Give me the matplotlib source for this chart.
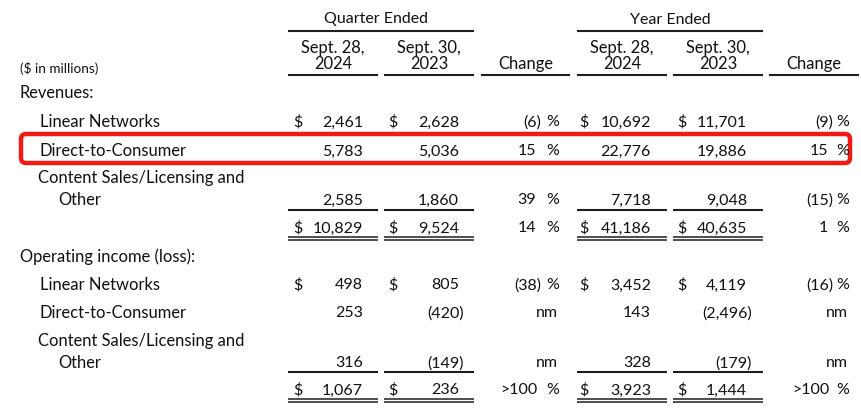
import matplotlib.pyplot as plt
from matplotlib.patches import FancyBboxPatch

plt.rcParams['font.family'] = ['Lato', 'DejaVu Sans']

rev_labels = ["Linear Networks", "Direct-to-Consumer", "Content Sales/Licensing and"]
rev_q24 = [2461, 5783, 2585]
rev_q23 = [2628, 5036, 1860]
rev_qchg = [-6, 15, 39]
rev_y24 = [10692, 22776, 7718]
rev_y23 = [11701, 19886, 9048]
rev_ychg = [-9, 15, -15]
rev_total = [10829, 9524, 14, 41186, 40635, 1]

op_labels = ["Linear Networks", "Direct-to-Consumer", "Content Sales/Licensing and"]
op_q24 = [498, 253, 316]
op_q23 = [805, -420, -149]
op_qchg = [-38, None, None]
op_y24 = [3452, 143, 328]
op_y23 = [4119, -2496, -179]
op_ychg = [-16, None, None]
op_total = [1067, 236, ">100", 3923, 1444, ">100"]

W, H = 862, 414
fig = plt.figure(figsize=(W / 100, H / 100), dpi=100)
ax = fig.add_axes([0, 0, 1, 1])
ax.set_xlim(0, W)
ax.set_ylim(H, 0)
ax.axis('off')

txt = '#111111'
fs = 11.5      # numbers / headers
fl = 11.9      # row labels
dy = 1.5       # small downward nudge for all text
# column geometry (right edge of digits, $ position, underline span)
num_right = [363, 459, 651, 747]
dollar_x = [293, 388, 579, 677]
col_span = [(288, 378), (384, 474), (577, 667), (673, 763)]
chg_right = [536, 828]
pct_x = [546, 836]
chg_span = [(481, 570), (769, 859)]


def t(x, y, s, ha='left', size=fs):
    ax.text(x, y + dy, s, ha=ha, va='center', fontsize=size, color=txt)


def hline(x0, x1, y, lw=1.5):
    ax.plot([x0, x1], [y, y], color='#1e1e1e', lw=lw, solid_capstyle='butt')


def put_num(i, y, v, dollar=False):
    x = num_right[i]
    if v < 0:
        t(x + 5, y, '(' + format(-v, ',') + ')', ha='right')
    else:
        t(x, y, format(v, ','), ha='right')
    if dollar:
        t(dollar_x[i], y, '$')


def put_chg(j, y, v):
    if v is None:
        t(pct_x[j] + 12, y, 'nm', ha='right')
        return
    if isinstance(v, str):
        s, xr = v, chg_right[j] + 2
    elif v < 0:
        s, xr = '(%d)' % -v, chg_right[j] + 5
    else:
        s, xr = '%d' % v, chg_right[j]
    t(xr, y, s, ha='right')
    t(pct_x[j], y, '%')


# headers
t(376, 18, 'Quarter Ended', ha='center')
t(670, 18, 'Year Ended', ha='center')
hline(288, 474, 32)
hline(577, 763, 32)
heads = [('Sept. 28,', '2024'), ('Sept. 30,', '2023'), ('Sept. 28,', '2024'), ('Sept. 30,', '2023')]
for (a, b), (x0, x1) in zip(heads, col_span):
    cx = (x0 + x1) / 2
    t(cx, 46, a, ha='center', size=11.9)
    t(cx, 62.5, b, ha='center', size=11.9)
    hline(x0, x1, 76)
for x0, x1 in chg_span:
    t((x0 + x1) / 2, 62.5, 'Change', ha='center', size=11.9)
    hline(x0, x1, 76)
t(20, 67, '($ in millions)', size=9.7)


def section(title, ty, labels, q24, q23, qchg, y24, y23, ychg, total, rows_y, line_y, tot_y):
    t(20, ty, title, size=fl)
    for k, lab in enumerate(labels):
        ry = rows_y[k]
        if k == 2:
            t(38, ry - 22, lab, size=fl)
            t(58, ry, 'Other', size=fl)
        else:
            t(40, ry, lab, size=fl)
        d = k == 0
        put_num(0, ry, q24[k], d)
        put_num(1, ry, q23[k], d)
        put_chg(0, ry, qchg[k])
        put_num(2, ry, y24[k], d)
        put_num(3, ry, y23[k], d)
        put_chg(1, ry, ychg[k])
    for x0, x1 in col_span:
        hline(x0, x1, line_y)
        hline(x0, x1, tot_y + 11, lw=1.1)
        hline(x0, x1, tot_y + 14, lw=1.1)
    put_num(0, tot_y, total[0], True)
    put_num(1, tot_y, total[1], True)
    put_chg(0, tot_y, total[2])
    put_num(2, tot_y, total[3], True)
    put_num(3, tot_y, total[4], True)
    put_chg(1, tot_y, total[5])


section('Revenues:', 91, rev_labels, rev_q24, rev_q23, rev_qchg, rev_y24, rev_y23, rev_ychg,
        rev_total, [121, 150, 199], 211, 227)
section('Operating income (loss):', 255, op_labels, op_q24, op_q23, op_qchg, op_y24, op_y23, op_ychg,
        op_total, [284, 312, 362], 373, 389)

# highlight box around the DTC revenue row
box = FancyBboxPatch((21, 135), 829, 29, boxstyle='round,pad=0,rounding_size=5',
                     fill=False, ec='#f01a14', lw=3.2)
ax.add_patch(box)

fig.savefig('out.png', dpi=100, facecolor='white')
